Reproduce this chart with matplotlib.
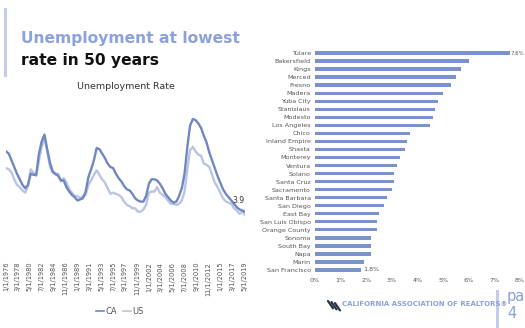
import matplotlib
matplotlib.use('Agg')
import matplotlib.pyplot as plt
from matplotlib.patches import Rectangle
from matplotlib.lines import Line2D
import pandas as pd
import numpy as np

# semiannual readings (Jan / Jul), 1976-01 .. 2019-07
dates = pd.date_range('1976-01-01', periods=88, freq='6MS')
ca_rate = [9.4, 9.2, 8.6, 8.0, 7.4, 6.9, 6.4, 6.1, 6.4, 7.4,
           7.3, 7.3, 9.2, 10.3, 10.9, 9.6, 8.4, 7.6, 7.4, 7.2,
           6.8, 6.8, 6.2, 5.8, 5.5, 5.3, 5.0, 5.1, 5.2, 5.8,
           7.1, 7.8, 8.6, 9.7, 9.6, 9.2, 8.8, 8.3, 8.0, 7.9,
           7.4, 7.0, 6.7, 6.3, 6.0, 5.9, 5.6, 5.2, 5.0, 4.9,
           4.9, 5.4, 6.5, 6.9, 6.9, 6.8, 6.5, 6.1, 5.6, 5.3,
           5.0, 4.8, 4.9, 5.4, 6.1, 7.4, 9.8, 11.7, 12.3, 12.2,
           11.9, 11.5, 10.8, 10.2, 9.3, 8.6, 7.9, 7.2, 6.6, 6.0,
           5.6, 5.3, 5.0, 4.7, 4.4, 4.2, 4.1, 4.0]
us_rate = [7.9, 7.8, 7.5, 6.9, 6.4, 6.2, 5.9, 5.7, 6.3, 7.8,
           7.5, 7.2, 8.6, 9.8, 10.6, 9.4, 8.0, 7.5, 7.3, 7.4,
           6.7, 7.0, 6.6, 6.0, 5.7, 5.4, 5.4, 5.2, 5.4, 5.5,
           6.4, 6.8, 7.3, 7.7, 7.3, 6.9, 6.6, 6.1, 5.6, 5.7,
           5.6, 5.5, 5.3, 4.9, 4.6, 4.5, 4.3, 4.3, 4.0, 4.0,
           4.2, 4.6, 5.7, 5.8, 5.8, 6.2, 5.7, 5.5, 5.3, 5.0,
           4.7, 4.7, 4.6, 4.7, 5.0, 5.8, 7.8, 9.5, 9.8, 9.4,
           9.1, 9.0, 8.3, 8.2, 8.0, 7.3, 6.6, 6.2, 5.7, 5.2,
           4.9, 4.8, 4.7, 4.3, 4.1, 3.8, 4.0, 3.7]
last_label = '3.9'

regions = ['Tulare', 'Bakersfield', 'Kings', 'Merced', 'Fresno', 'Madera',
           'Yuba City', 'Stanislaus', 'Modesto', 'Los Angeles', 'Chico',
           'Inland Empire', 'Shasta', 'Monterey', 'Ventura', 'Solano',
           'Santa Cruz', 'Sacramento', 'Santa Barbara', 'San Diego',
           'East Bay', 'San Luis Obispo', 'Orange County', 'Sonoma',
           'South Bay', 'Napa', 'Marin', 'San Francisco']
region_rate = [7.6, 6.0, 5.7, 5.5, 5.3, 5.0, 4.8, 4.7, 4.6, 4.5, 3.7,
               3.6, 3.5, 3.3, 3.2, 3.1, 3.1, 3.0, 2.8, 2.7, 2.5, 2.4,
               2.4, 2.2, 2.2, 2.2, 1.9, 1.8]

ca_col = '#6f87c2'
us_col = '#b9c5e3'
bar_col = '#7b93cd'
title_blue = '#8da2dc'
grey_text = '#555555'

W, H = 525, 328
fig = plt.figure(figsize=(5.25, 3.28), dpi=100)
fig.patch.set_facecolor('white')

def fx(px):
    return px / W

def fy(py):
    return 1 - py / H

# left accent bar + title
fig.add_artist(Rectangle((fx(4), fy(77)), fx(3), 69 / H, color='#c3cdea', lw=0))
fig.text(fx(21), fy(38), 'Unemployment at lowest', color=title_blue, fontsize=11.2,
         fontweight='bold', va='center')
fig.text(fx(21), fy(60), 'rate in 50 years', color='#111111', fontsize=11.2,
         fontweight='bold', va='center')

# line chart
ax = fig.add_axes([fx(6), fy(234), 239 / W, 134 / H])
ax.plot(dates, us_rate, color=us_col, lw=1.7, label='US')
ax.plot(dates, ca_rate, color=ca_col, lw=1.7, label='CA')
ax.set_xlim(dates[0], dates[-1])
ax.set_ylim(2, 14)
ticks = pd.date_range('1976-01-01', '2019-05-01', freq='26MS')
ax.set_xticks(ticks)
ax.set_xticklabels([f'{d.month}/1/{d.year}' for d in ticks], rotation=90,
                   fontsize=4.8, color=grey_text)
ax.tick_params(axis='x', length=0, pad=20)
ax.set_yticks([])
for s in ax.spines.values():
    s.set_visible(False)
ax.text(dates[-1], ca_rate[-1] + 0.6, last_label, fontsize=5.5, color='#333333',
        ha='right', va='bottom')
ax.set_title('Unemployment Rate', fontsize=6.8, color='#333333', pad=8)
handles = [Line2D([], [], color=ca_col, lw=1.2), Line2D([], [], color=us_col, lw=1.2)]
fig.legend(handles, ['CA', 'US'], loc='center', bbox_to_anchor=(fx(120), fy(311)),
           ncol=2, frameon=False, fontsize=6, handlelength=1.0, handletextpad=0.2,
           columnspacing=0.6, labelcolor=grey_text)

# bar chart
bx = fig.add_axes([fx(315), fy(274), 205 / W, 225 / H])
ypos = np.arange(len(regions))
bx.barh(ypos, region_rate, height=0.42, color=bar_col)
bx.set_ylim(len(regions) - 0.5, -0.5)
bx.set_xlim(0, 8)
bx.set_yticks(ypos)
bx.set_yticklabels(regions, fontsize=4.6, color=grey_text)
bx.set_xticks(range(9))
bx.set_xticklabels([f'{i}%' for i in range(9)], fontsize=4.6, color=grey_text)
bx.tick_params(length=0, pad=3)
for s in bx.spines.values():
    s.set_visible(False)
bx.text(region_rate[0] + 0.03, 0, f'{region_rate[0]}%', fontsize=3.9,
        color=grey_text, va='center', clip_on=False)
bx.text(region_rate[-1] + 0.08, len(regions) - 1, f'{region_rate[-1]}%', fontsize=4.6,
        color=grey_text, va='center')

# footer
for dx in (0, 3.5, 7):
    fig.add_artist(Line2D([fx(328 + dx), fx(333 + dx)], [fy(301 + dx * 0.3), fy(307 + dx * 0.3) - 0.004],
                          color='#2b3445', lw=1.6, solid_capstyle='round'))
fig.text(fx(342), fy(304), 'CALIFORNIA ASSOCIATION OF REALTORS\u00ae', fontsize=5,
         color='#8fa2d6', va='center', fontweight='bold')
fig.add_artist(Rectangle((fx(496), 0), fx(3), 38 / H, color='#c3cdea', lw=0))
fig.text(fx(507), fy(297), 'pa', fontsize=10.5, color='#8aa0da', va='center')
fig.text(fx(507), fy(313), '4', fontsize=10.5, color='#8aa0da', va='center')

fig.savefig('out.png', dpi=100)
